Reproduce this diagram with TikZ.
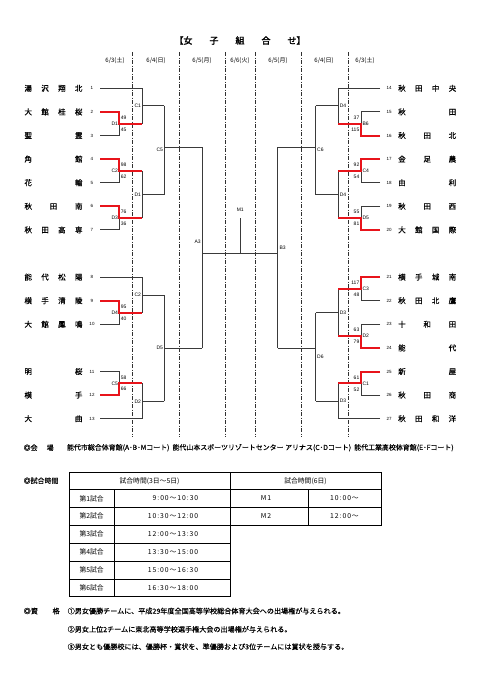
\documentclass[tikz,border=0pt]{standalone}
\usepackage{fontspec}
\setmainfont{Liberation Sans}
\newfontfamily\cjk{Noto Sans CJK JP}[AutoFakeBold=2]
\newfontfamily\cjkm{Noto Sans CJK JP}[FakeBold=0.5]
\newfontfamily\cjkt{Noto Sans CJK JP}[FakeBold=0.2]
\newfontfamily\cjksp{Noto Sans CJK JP}[LetterSpace=14]
\definecolor{lineg}{HTML}{3A3A3A}
\definecolor{winred}{HTML}{E8141B}
\definecolor{sepg}{HTML}{303030}
\newcommand\jname[1]{\makebox[58pt][s]{#1}}
\begin{document}
\begin{tikzpicture}[x=1pt,y=-1pt,
  ln/.style={draw=lineg, line width=0.9pt},
  win/.style={draw=winred, line width=2pt},
  sepline/.style={draw=sepg, line width=0.8pt, dash pattern=on 4pt off 1.5pt on 1pt off 1.5pt},
  lab/.style={font=\fontsize{5}{5}\selectfont, inner sep=0.4pt},
  tnum/.style={font=\fontsize{4.5}{5}\selectfont, inner sep=0},
  tnm/.style={font=\cjkm\fontsize{7.5}{8}\selectfont, inner sep=0, anchor=west},
  datet/.style={font=\cjk\fontsize{6}{6}\selectfont, inner sep=0},
  jtxt/.style={font=\cjkt\fontsize{6.95}{7}\selectfont, inner sep=0, anchor=west},
  ftxt/.style={font=\cjkt\fontsize{7.1}{7}\selectfont, inner sep=0, anchor=west},
  ttxt/.style={font=\cjk\fontsize{6.8}{7}\selectfont, inner sep=0},
  ttim/.style={font=\cjksp\fontsize{6.8}{7}\selectfont, inner sep=0},
  tbl/.style={draw=black, line width=0.7pt},
  tblo/.style={draw=black, line width=1pt}
]
\fill[white] (0,0) rectangle (481,680);
\useasboundingbox (0,0) rectangle (481,680);

% title and dates
\node[font=\cjk\bfseries\fontsize{9}{9}\selectfont, inner sep=0] (title) at (240,40.5) {\makebox[131pt][s]{【女\hfill 子\hfill 組\hfill 合\hfill せ】}};
\node[datet] (d1) at (115,61) {6/3(土)};
\node[datet] (d2) at (156,61) {6/4(日)};
\node[datet] (d3) at (202,61) {6/5(月)};
\node[datet] (d4) at (240,61) {6/6(火)};
\node[datet] (d5) at (278,61) {6/5(月)};
\node[datet] (d6) at (324,61) {6/4(日)};
\node[datet] (d7) at (365,61) {6/3(土)};

% separators
\foreach \sx in {132,179.5,225,255.5,301,348}
  \draw[sepline] (\sx,52) -- (\sx,437);

% team coordinates
\foreach \i/\yy in {1/88.3,2/111.9,3/135.5,4/159.1,5/182.7,6/206.3,7/229.9,8/277.1,9/300.7,10/324.3,11/371.5,12/395.1,13/418.7}
  \coordinate (t\i) at (100,\yy);
\foreach \i/\yy in {14/88.3,15/111.9,16/135.5,17/159.1,18/182.7,19/206.3,20/229.9,21/277.1,22/300.7,23/324.3,24/347.9,25/371.5,26/395.1,27/418.7}
  \coordinate (t\i) at (380,\yy);

% team names and numbers (left)
\foreach \i/\yy/\nm in {1/88.3/{湯\hfill 沢\hfill 翔\hfill 北},2/111.9/{大\hfill 館\hfill 桂\hfill 桜},3/135.5/{聖\hfill 霊},4/159.1/{角\hfill 館},5/182.7/{花\hfill 輪},6/206.3/{秋\hfill 田\hfill 南},7/229.9/{秋\hfill 田\hfill 高\hfill 専},8/277.1/{能\hfill 代\hfill 松\hfill 陽},9/300.7/{横\hfill 手\hfill 清\hfill 陵},10/324.3/{大\hfill 館\hfill 鳳\hfill 鳴},11/371.5/{明\hfill 桜},12/395.1/{横\hfill 手},13/418.7/{大\hfill 曲}}{
  \node[tnm] (n\i) at (24.3,\yy) {\jname{\nm}};
  \node[tnum] (k\i) at (92,\yy) {\i};
}
% team names and numbers (right)
\foreach \i/\yy/\nm in {14/88.3/{秋\hfill 田\hfill 中\hfill 央},15/111.9/{秋\hfill 田},16/135.5/{秋\hfill 田\hfill 北},17/159.1/{金\hfill 足\hfill 農},18/182.7/{由\hfill 利},19/206.3/{秋\hfill 田\hfill 西},20/229.9/{大\hfill 館\hfill 国\hfill 際},21/277.1/{横\hfill 手\hfill 城\hfill 南},22/300.7/{秋\hfill 田\hfill 北\hfill 鷹},23/324.3/{十\hfill 和\hfill 田},24/347.9/{能\hfill 代},25/371.5/{新\hfill 屋},26/395.1/{秋\hfill 田\hfill 商},27/418.7/{秋\hfill 田\hfill 和\hfill 洋}}{
  \node[tnm] (n\i) at (398,\yy) {\jname{\nm}};
  \node[tnum] (k\i) at (389,\yy) {\i};
}

% match coordinates (left)
\coordinate (mD1) at (119.3,123.7);  \coordinate (oD1) at (142.3,123.7);
\coordinate (mC2) at (119.3,170.9);  \coordinate (oC2) at (142.3,170.9);
\coordinate (mD3) at (119.3,218.1);  \coordinate (oD3) at (142.3,218.1);
\coordinate (mC1) at (142.3,105.7);  \coordinate (oC1) at (164.3,105.7);
\coordinate (mD1b) at (142.3,194.5); \coordinate (oD1b) at (164.3,194.5);
\coordinate (mC5) at (164.3,147.3);  \coordinate (oC5) at (202.3,147.3);
\coordinate (mD4) at (119.3,312.5);  \coordinate (oD4) at (142.3,312.5);
\coordinate (mC2b) at (142.3,295);   \coordinate (oC2b) at (164.3,295);
\coordinate (mC5b) at (119.3,383.3); \coordinate (oC5b) at (142.3,383.3);
\coordinate (mD2) at (142.3,401.3);  \coordinate (oD2) at (164.3,401.3);
\coordinate (mD5) at (164.3,348);    \coordinate (oD5) at (202.3,348);
\coordinate (mA3) at (202.3,253.3);
% match coordinates (right)
\coordinate (mB6) at (361,123.7);    \coordinate (oB6) at (338.3,123.7);
\coordinate (mC4) at (361,170.9);    \coordinate (oC4) at (338.3,170.9);
\coordinate (mD5r) at (361,218.1);   \coordinate (oD5r) at (338.3,218.1);
\coordinate (mD4a) at (338.3,105.7); \coordinate (oD4a) at (315.7,105.7);
\coordinate (mD4b) at (338.3,194.5); \coordinate (oD4b) at (315.7,194.5);
\coordinate (mC6) at (315.7,147.3);  \coordinate (oC6) at (277.7,147.3);
\coordinate (mC3) at (361,288.9);    \coordinate (oC3) at (338.3,288.9);
\coordinate (mD2r) at (361,336.1);   \coordinate (oD2r) at (338.3,336.1);
\coordinate (mD3a) at (338.3,312.5); \coordinate (oD3a) at (315.7,312.5);
\coordinate (mC1r) at (361,383.3);   \coordinate (oC1r) at (338.3,383.3);
\coordinate (mD3b) at (338.3,401);   \coordinate (oD3b) at (315.7,401);
\coordinate (mD6) at (315.7,348);    \coordinate (oD6) at (277.7,348);
\coordinate (mB3) at (277.7,253.3);
\coordinate (m1top) at (240.3,218.3);

% grey bracket lines
\draw[ln] (t3) -| (mD1);  \draw[ln] (t5) -| (mC2);  \draw[ln] (t7) -| (mD3);
\draw[ln] (t1) -| (mC1) (oD1) -| (mC1) (mC1) -- (oC1);
\draw[ln] (oC2) -| (mD1b) (oD3) -| (mD1b) (mD1b) -- (oD1b);
\draw[ln] (oC1) -| (mC5) (oD1b) -| (mC5) (mC5) -- (oC5);
\draw[ln] (t10) -| (mD4);
\draw[ln] (t8) -| (mC2b) (oD4) -| (mC2b) (mC2b) -- (oC2b);
\draw[ln] (t11) -| (mC5b);
\draw[ln] (oC5b) -| (mD2) (t13) -| (mD2) (mD2) -- (oD2);
\draw[ln] (oC2b) -| (mD5) (oD2) -| (mD5) (mD5) -- (oD5);
\draw[ln] (oC5) -| (mA3) (oD5) -| (mA3) (mA3) -- (mB3);
\draw[ln] (m1top) -- (m1top |- mA3);
\draw[ln] (t15) -| (mB6);  \draw[ln] (t18) -| (mC4);  \draw[ln] (t19) -| (mD5r);
\draw[ln] (t14) -| (mD4a) (oB6) -| (mD4a) (mD4a) -- (oD4a);
\draw[ln] (oC4) -| (mD4b) (oD5r) -| (mD4b) (mD4b) -- (oD4b);
\draw[ln] (oD4a) -| (mC6) (oD4b) -| (mC6) (mC6) -- (oC6);
\draw[ln] (t22) -| (mC3);  \draw[ln] (t23) -| (mD2r);  \draw[ln] (t26) -| (mC1r);
\draw[ln] (oC3) -| (mD3a) (oD2r) -| (mD3a) (mD3a) -- (oD3a);
\draw[ln] (oC1r) -| (mD3b) (t27) -| (mD3b) (mD3b) -- (oD3b);
\draw[ln] (oD3a) -| (mD6) (oD3b) -| (mD6) (mD6) -- (oD6);
\draw[ln] (oC6) -| (mB3) (oD6) -| (mB3);

% winners (red)
\draw[win] (t2) -| (mD1) -- (oD1);
\draw[win] (t4) -| (mC2) -- (oC2);
\draw[win] (t6) -| (mD3) -- (oD3);
\draw[win] (t9) -| (mD4) -- (oD4);
\draw[win] (t12) -| (mC5b) -- (oC5b);
\draw[win] (t16) -| (mB6) -- (oB6);
\draw[win] (t17) -| (mC4) -- (oC4);
\draw[win] (t20) -| (mD5r) -- (oD5r);
\draw[win] (t21) -| (mC3) -- (oC3);
\draw[win] (t24) -| (mD2r) -- (oD2r);
\draw[win] (t25) -| (mC1r) -- (oC1r);

% match labels left level 1 with scores
\foreach \nm/\yy/\sa/\sb [count=\c] in {D1/123.7/49/45, C2/170.9/98/62, D3/218.1/76/36, D4/312.5/95/40, C5/383.3/58/66}{
  \node[lab, anchor=east] (la\c) at (118.6,\yy) {\nm};
  \node[lab, anchor=west] (sa\c) at (120.2,\yy-6) {\sa};
  \node[lab, anchor=west] (sb\c) at (120.2,\yy+5.8) {\sb};
}
\foreach \nm/\yy [count=\c] in {C1/105.7, D1/194.5, C2/295, D2/401.3}
  \node[lab, anchor=east] (lb\c) at (141.6,\yy) {\nm};
\node[lab, anchor=east] (lc1) at (163.6,150) {C5};
\node[lab, anchor=east] (lc2) at (163.6,348) {D5};
\node[lab, anchor=east] (la3) at (201.3,242) {A3};
\node[lab] (lm1) at (240.3,209.5) {M1};
\node[lab, anchor=west] (lb3) at (279,247.7) {B3};
% right
\foreach \nm/\yy/\sa/\sb [count=\c] in {B6/123.7/37/115, C4/170.9/92/54, D5/218.1/55/81, C3/288.9/117/48, D2/336.1/63/79, C1/383.3/61/52}{
  \node[lab, anchor=west] (ra\c) at (362,\yy) {\nm};
  \node[lab, anchor=east] (rsa\c) at (359.9,\yy-6) {\sa};
  \node[lab, anchor=east] (rsb\c) at (359.9,\yy+6) {\sb};
}
\foreach \nm/\yy [count=\c] in {D4/105.7, D4/194.5, D3/312.5, D3/401}
  \node[lab, anchor=west] (rb\c) at (339.2,\yy) {\nm};
\node[lab, anchor=west] (rc1) at (316.6,150) {C6};
\node[lab, anchor=west] (rc2) at (316.6,356.7) {D6};

% venue
\node[jtxt] (v0) at (23.5,447.7) {\makebox[30pt][s]{◎会\hfill 場}};
\node[jtxt] (v1) at (66.8,447.7) {能代市総合体育館(A･B･Mコート)\hspace{3pt}能代山本スポーツリゾートセンター アリナス(C･Dコート)\hspace{3pt}能代工業高校体育館(E･Fコート)};

% schedule table
\node[jtxt] (s0) at (23.5,480.7) {◎試合時間};
\draw[tblo] (69,472.5) rectangle (230,596.9);
\foreach \yy in {489.5,507.4,525.3,543.2,561.1,579}
  \draw[tbl] (69,\yy) -- (230,\yy);
\draw[tblo] (114.3,489.5) -- (114.3,596.9);
\draw[tblo] (230,472.5) rectangle (381,525.3);
\draw[tbl] (230,489.5) -- (381,489.5) (230,507.4) -- (381,507.4);
\draw[tblo] (308.3,489.5) -- (308.3,525.3);
\node[ttxt] (h1) at (149.5,481) {試合時間(3日～5日)};
\node[ttxt] (h2) at (305.5,481) {試合時間(6日)};
\foreach \k/\yy/\tt in {1/498.45/{\ \ 9:00～10:30},2/516.35/{10:30～12:00},3/534.25/{12:00～13:30},4/552.15/{13:30～15:00},5/570.05/{15:00～16:30},6/587.95/{16:30～18:00}}{
  \node[ttxt] (g\k) at (91.7,\yy) {第\k 試合};
  \node[ttim] (tm\k) at (173,\yy) {\tt};
}
\node[ttim] (mm1) at (266,498.45) {M1};
\node[ttim] (mt1) at (344.5,498.45) {10:00～};
\node[ttim] (mm2) at (266,516.35) {M2};
\node[ttim] (mt2) at (344.5,516.35) {12:00～};

% qualification notes
\node[ftxt] (q0) at (23.5,611) {\makebox[36pt][s]{◎資\hfill 格}};
\node[ftxt] (q1) at (67.5,611) {①男女優勝チームに、平成29年度全国高等学校総合体育大会への出場権が与えられる。};
\node[ftxt] (q2) at (67.5,629.3) {②男女上位2チームに東北高等学校選手権大会の出場権が与えられる。};
\node[ftxt] (q3) at (67.5,646.7) {③男女とも優勝校には、優勝杯・賞状を、準優勝および3位チームには賞状を授与する。};
\end{tikzpicture}
\end{document}
